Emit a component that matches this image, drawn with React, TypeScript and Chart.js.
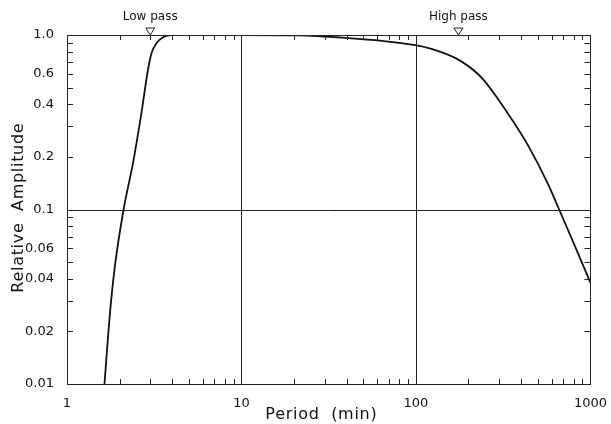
import React, { useEffect, useRef } from "react";
import { Chart, registerables } from "chart.js";

Chart.register(...registerables);

const periods = [1.64, 1.76, 1.88, 2.11, 2.39, 2.67, 2.91, 3.05, 3.26, 3.55, 3.97, 5, 10, 21, 41, 64, 97, 124, 176, 239, 340, 442, 575, 656, 800, 1000];
const amplitudes = [0.01, 0.025, 0.047, 0.1, 0.185, 0.357, 0.63, 0.786, 0.897, 0.97, 1.0, 1.0, 1.0, 0.995, 0.96, 0.925, 0.877, 0.83, 0.72, 0.566, 0.349, 0.23, 0.138, 0.102, 0.0644, 0.038];

const xTickValues = [1, 10, 100, 1000];
const xTickLabels = ["1", "10", "100", "1000"];
const yTickValues = [1.0, 0.6, 0.4, 0.2, 0.1, 0.06, 0.04, 0.02, 0.01];
const yTickLabels = ["1.0", "0.6", "0.4", "0.2", "0.1", "0.06", "0.04", "0.02", "0.01"];
const xGridValues = [10, 100];
const yGridValues = [0.1];
const xDecades = [1, 10, 100];
const yDecades = [0.01, 0.1];
const markerLabels = ["Low pass", "High pass"];
const markerPeriods = [3, 175];
const xTitle = "Period  (min)";
const yTitle = "Relative  Amplitude";

const FONT = "'DejaVu Sans', sans-serif";

function spacedText(ctx: any, text: string, x: number, y: number, target: number) {
  ctx.letterSpacing = "0px";
  const w0 = ctx.measureText(text).width;
  const sp = Math.max(0, (target - w0) / text.length);
  ctx.letterSpacing = sp + "px";
  ctx.fillText(text, x + sp / 2, y);
  ctx.letterSpacing = "0px";
}

const framePlugin = {
  id: "framePlugin",
  afterDatasetsDraw(chart: any) {
    const { ctx, chartArea, scales } = chart;
    const { left, right, top, bottom } = chartArea;
    const xs = scales.x;
    const ys = scales.y;
    ctx.save();
    ctx.strokeStyle = "#222";
    ctx.lineWidth = 1;
    ctx.strokeRect(Math.round(left) + 0.5, Math.round(top) + 0.5, Math.round(right - left), Math.round(bottom - top));
    ctx.beginPath();
    xGridValues.forEach((v) => {
      const px = Math.round(xs.getPixelForValue(v)) + 0.5;
      ctx.moveTo(px, top);
      ctx.lineTo(px, bottom);
    });
    yGridValues.forEach((v) => {
      const py = Math.round(ys.getPixelForValue(v)) + 0.5;
      ctx.moveTo(left, py);
      ctx.lineTo(right, py);
    });
    xDecades.forEach((d) => {
      for (let m = 2; m <= 9; m++) {
        const px = Math.round(xs.getPixelForValue(m * d)) + 0.5;
        ctx.moveTo(px, bottom);
        ctx.lineTo(px, bottom - 5);
        ctx.moveTo(px, top);
        ctx.lineTo(px, top + 5);
      }
    });
    yDecades.forEach((d) => {
      for (let m = 2; m <= 9; m++) {
        const py = Math.round(ys.getPixelForValue(m * d)) + 0.5;
        ctx.moveTo(left, py);
        ctx.lineTo(left + 6, py);
        ctx.moveTo(right, py);
        ctx.lineTo(right - 6, py);
      }
    });
    ctx.stroke();
    // markers
    ctx.font = "12px " + FONT;
    ctx.textAlign = "center";
    ctx.textBaseline = "middle";
    markerPeriods.forEach((p, i) => {
      const px = xs.getPixelForValue(p);
      ctx.beginPath();
      ctx.moveTo(px - 4.5, top - 7);
      ctx.lineTo(px + 4.5, top - 7);
      ctx.lineTo(px, top);
      ctx.closePath();
      ctx.fillStyle = "#fff";
      ctx.fill();
      ctx.stroke();
      ctx.fillStyle = "#111";
      ctx.fillText(markerLabels[i], px, top - 18);
    });
    // axis titles
    ctx.fillStyle = "#111";
    ctx.font = "16px " + FONT;
    spacedText(ctx, xTitle, 321, 415, 112);
    ctx.save();
    ctx.translate(19, 208);
    ctx.rotate(-Math.PI / 2);
    spacedText(ctx, yTitle, 0, 0, 170);
    ctx.restore();
    ctx.restore();
  },
};

export default function App() {
  const ref = useRef<HTMLCanvasElement | null>(null);
  useEffect(() => {
    if (!ref.current) return;
    const chart = new Chart(ref.current, {
      type: "line",
      data: {
        datasets: [
          {
            data: periods.map((p, i) => ({ x: p, y: amplitudes[i] })),
            borderColor: "#111",
            borderWidth: 1.8,
            pointRadius: 0,
            fill: false,
            cubicInterpolationMode: "monotone",
          },
        ],
      },
      options: {
        animation: false,
        responsive: false,
        maintainAspectRatio: false,
        layout: { padding: { left: 0, top: 35, right: 19, bottom: 0 } },
        plugins: { legend: { display: false }, tooltip: { enabled: false } },
        scales: {
          x: {
            type: "logarithmic",
            min: 1,
            max: 1000,
            grid: { display: false },
            border: { display: false },
            afterBuildTicks: (s: any) => {
              s.ticks = xTickValues.map((v) => ({ value: v }));
            },
            afterFit: (s: any) => {
              s.height = 40;
            },
            ticks: {
              autoSkip: false,
              maxRotation: 0,
              padding: 4,
              color: "#111",
              font: { family: FONT, size: 13 },
              callback: (v: any) => {
                const i = xTickValues.indexOf(Number(v));
                return i >= 0 ? xTickLabels[i] : "";
              },
            },
          },
          y: {
            type: "logarithmic",
            min: 0.01,
            max: 1.0,
            grid: { display: false },
            border: { display: false },
            afterBuildTicks: (s: any) => {
              s.ticks = yTickValues.map((v) => ({ value: v }));
            },
            afterFit: (s: any) => {
              s.width = 67;
            },
            ticks: {
              autoSkip: false,
              padding: 5,
              color: "#111",
              font: { family: FONT, size: 13 },
              callback: (v: any) => {
                const i = yTickValues.findIndex((t) => Math.abs(t - Number(v)) < 1e-9);
                return i >= 0 ? yTickLabels[i] : "";
              },
            },
          },
        },
      },
      plugins: [framePlugin],
    } as any);
    return () => chart.destroy();
  }, []);
  return (
    <div style={{ position: "fixed", left: 0, top: 0, width: 611, height: 424, background: "#fff" }}>
      <canvas ref={ref} width={611} height={424} style={{ width: 611, height: 424 }} />
    </div>
  );
}
